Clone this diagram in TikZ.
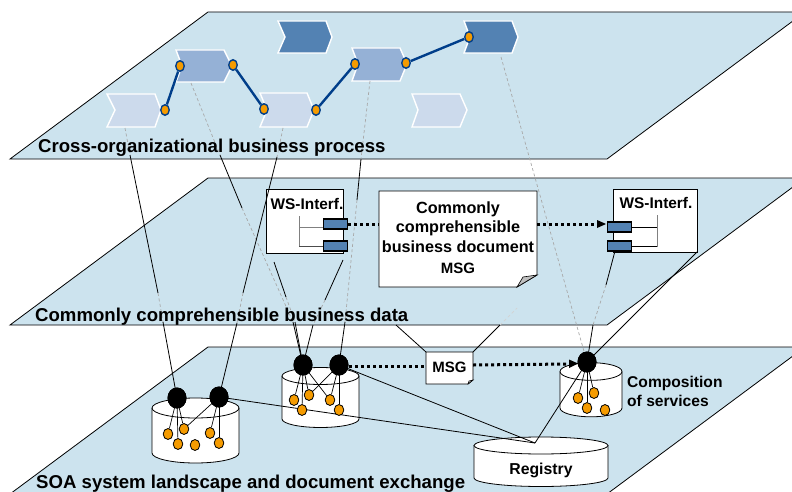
\documentclass[tikz,border=0pt]{standalone}
\usepackage{fontspec}
\usetikzlibrary{shapes.geometric}
\setmainfont{Liberation Sans}
\definecolor{planec}{HTML}{CCE3EE}
\definecolor{lightc}{HTML}{CCDAEC}
\definecolor{medc}{HTML}{95B1D6}
\definecolor{darkc}{HTML}{5382B3}
\definecolor{navyc}{HTML}{003E8A}
\definecolor{orangec}{HTML}{F59B00}
\definecolor{dashc}{HTML}{A8A8A8}
\tikzset{
  plane/.style={fill=planec,draw=black,line width=0.8pt},
  chev/.style={draw=white,line width=1.4pt,fill=#1},
  port/.style={draw=navyc,line width=1.4pt,fill=orangec,ellipse,inner sep=0pt,minimum width=8.5pt,minimum height=10.5pt},
  flow/.style={draw=navyc,line width=2.4pt},
  dot/.style={fill=black,ellipse,inner sep=0pt,minimum width=19pt,minimum height=21pt},
  svc/.style={draw=black,line width=0.8pt,fill=orangec,ellipse,inner sep=0pt,minimum width=9.6pt,minimum height=11pt},
  wire/.style={draw=black,line width=0.7pt},
  solidl/.style={draw=black,line width=0.8pt},
  dashl/.style={draw=dashc,line width=0.7pt,dash pattern=on 3pt off 2.5pt},
  dotl/.style={draw=black,line width=3pt,dash pattern=on 3pt off 3pt},
  title/.style={font=\bfseries\fontsize{18.6}{22}\selectfont,anchor=base west,inner sep=0pt},
  lab/.style={font=\bfseries\fontsize{16.2}{19.5}\selectfont,inner sep=0pt,align=center},
  iface/.style={draw=black,line width=1.2pt,fill=darkc},
  paper/.style={draw=black,line width=0.9pt,fill=white},
}
\newcommand{\cyl}[5]{% xl, xr, ytop centre, ybottom centre, ry
  \pgfmathsetmacro{\cx}{(#1+#2)/2}\pgfmathsetmacro{\rx}{(#2-#1)/2}
  \draw[fill=white,draw=black,line width=0.8pt] (#1,#3) -- (#1,#4) arc[start angle=180,end angle=360,x radius=\rx pt,y radius=#5pt] -- (#2,#3);
  \draw[fill=white,draw=black,line width=0.8pt] (\cx,#3) ellipse[x radius=\rx pt,y radius=#5pt];
}
\begin{document}
\begin{tikzpicture}[x=1pt,y=-1pt]
\useasboundingbox (0,0) rectangle (792,492);
\clip (0,0) rectangle (792,492);
% planes
\draw[plane] (10,159) -- (208,12) -- (805,12) -- (607,159) -- cycle;
\draw[plane] (10,325) -- (208,178) -- (805,178) -- (607,325) -- cycle;
\draw[plane] (10,494) -- (208,347) -- (805,347) -- (607,494) -- cycle;
% chevrons
\draw[chev=lightc] (107,94) -- (155,94) -- (161,110) -- (155,127) -- (107,127) -- (115,110) -- cycle;
\draw[chev=medc] (176,50) -- (224,50) -- (232,66) -- (224,82) -- (176,82) -- (182,66) -- cycle;
\draw[chev=lightc] (260,93) -- (307,93) -- (314,110) -- (307,127) -- (260,127) -- (267,110) -- cycle;
\draw[chev=medc] (352,48) -- (400,48) -- (407,64) -- (400,81) -- (352,81) -- (358,64) -- cycle;
\draw[chev=darkc] (464,21) -- (512,21) -- (518,37) -- (512,53) -- (464,53) -- (470,37) -- cycle;
\draw[chev=darkc] (278,21) -- (326,21) -- (332,37) -- (326,53) -- (278,53) -- (285,37) -- cycle;
\draw[chev=lightc] (412,94) -- (460,94) -- (467,110) -- (460,127) -- (412,127) -- (418,110) -- cycle;
% process ports
\node[port] (p1) at (165,110) {};
\node[port] (p2) at (180,66) {};
\node[port] (p3) at (233,65) {};
\node[port] (p4) at (264,109) {};
\node[port] (p5) at (316,110) {};
\node[port] (p6) at (355,64) {};
\node[port] (p7) at (406,63) {};
\node[port] (p8) at (469,37) {};
\draw[flow] (p1) -- (p2);
\draw[flow] (p3) -- (p4);
\draw[flow] (p5) -- (p6);
\draw[flow] (p7) -- (p8);
% cylinders
\cyl{152}{239}{408}{453}{10}
\cyl{282}{359}{376}{419}{8.5}
\cyl{560}{622}{371.5}{408}{8.8}
\cyl{474}{608}{445.5}{478}{8.5}
% dots
\node[dot] (d1) at (177,398) {};
\node[dot] (d2) at (219,397) {};
\node[dot] (d3) at (303,365) {};
\node[dot] (d4) at (339,365) {};
\node[dot] (d5) at (587,362) {};
\coordinate (reg) at (535,443);
% registry links
\draw[solidl] (d2.center) -- (reg);
\draw[solidl] (d4.center) -- (reg);
\draw[solidl] (d5.center) -- (reg);
% services
\node[svc] (a1) at (168,434) {};
\node[svc] (a2) at (184,429) {};
\node[svc] (a3) at (178,444) {};
\node[svc] (a4) at (195,445) {};
\node[svc] (a5) at (210,433) {};
\node[svc] (a6) at (219,443) {};
\node[svc] (b1) at (294,400) {};
\node[svc] (b2) at (309,395) {};
\node[svc] (b3) at (302,410) {};
\node[svc] (b4) at (330,400) {};
\node[svc] (b5) at (339,410) {};
\node[svc] (c1) at (578,398) {};
\node[svc] (c2) at (594,393) {};
\node[svc] (c3) at (587,408) {};
\node[svc] (c4) at (605,410) {};
\foreach \s/\e in {d1/a1,d1/a2,d1/a3,d2/a2,d2/a5,d2/a6,d3/b1,d3/b3,d3/b4,d4/b2,d4/b4,d4/b5,d3/b2,d5/c1,d5/c2,d5/c3}
  \draw[wire] (\s.center) -- (\e);
% documents
\node[paper,minimum width=77pt,minimum height=64pt,inner sep=0pt] (wsl) at (304.5,221) {};
\node[paper,minimum width=84pt,minimum height=63pt,inner sep=0pt] (wsr) at (655,220.5) {};
\draw[paper] (379,191) -- (537,191) -- (537,275) -- (517,287) -- (379,287) -- cycle;
\draw[draw=black,line width=0.6pt,fill=lightgray] (517,287) -- (523,277) -- (537,275) -- cycle;
\coordinate (msgtl) at (426,352);
\coordinate (msgtr) at (473,352);
\draw[solidl] (396,325) -- (msgtl);
\draw[solidl] (500,325) -- (msgtr);
\draw[dashl,draw=dashc!50] (500,325) -- (517,308);
\draw[paper] (426,352) -- (473,352) -- (473,380) -- (468,384) -- (426,384) -- cycle;
\draw[draw=black,line width=0.5pt,fill=lightgray] (468,384) -- (469,381) -- (473,380) -- cycle;
% vertical links
\draw[dashl] (125,128) -- (130,155);
\draw[solidl] (130,155) -- (158,293);
\draw[dashl] (158,293) -- (163,322);
\draw[solidl] (163,322) -- (d1.center);
\draw[dashl] (191,83) -- (220,155);
\draw[solidl] (220,155) -- (242,208);
\draw[dashl] (242,208) -- (293,322);
\draw[solidl] (293,322) -- (d3.center);
\draw[dashl] (283,128) -- (277,157);
\draw[solidl] (277,157) -- (243,293);
\draw[dashl] (243,293) -- (237,323);
\draw[solidl] (237,323) -- (d2.center);
\draw[dashl] (370,81) -- (361,159);
\draw[solidl] (361,159) -- (357,200);
\draw[dashl] (357,200) -- (345,322);
\draw[solidl] (345,322) -- (d4.center);
\draw[dashl] (501,57) -- (d5.center);
\draw[solidl] (274,262) -- (286,297);
\draw[dashl] (286,297) -- (295,322);
\draw[solidl] (295,322) -- (d3.center);
\draw[solidl] (343,260) -- (325,300);
\draw[dashl] (325,300) -- (313,325);
\draw[solidl] (313,325) -- (d3.center);
\draw[solidl] (697,252) -- (d5.center);
\draw[solidl] (615,251) -- (606,285);
\draw[dashl] (606,285) -- (593,325);
\draw[solidl] (593,325) -- (d5.center);
% redraw
\node[dot] at (d3) {};\node[dot] at (d4) {};\node[dot] at (d5) {};\node[dot] at (d1) {};\node[dot] at (d2) {};
% interfaces
\draw[draw=gray,line width=1pt] (299,216) -- (299,247);
\draw[draw=gray,line width=1pt] (299,227) -- (323,227);
\draw[draw=black!70,line width=1pt] (299,246) -- (323,246);
\node[iface,minimum width=24pt,minimum height=10pt,inner sep=0pt] (il1) at (335.5,224) {};
\node[iface,minimum width=24pt,minimum height=10pt,inner sep=0pt] (il2) at (335.5,246) {};
\draw[draw=gray,line width=1pt] (657,215) -- (657,247);
\draw[draw=black,line width=0.8pt] (632,227) -- (657,227);
\draw[draw=black,line width=0.8pt] (632,246) -- (657,246);
\node[iface,minimum width=24pt,minimum height=10pt,inner sep=0pt] (ir1) at (619.5,227) {};
\node[iface,minimum width=24pt,minimum height=10pt,inner sep=0pt] (ir2) at (619.5,246) {};
% dotted messages
\node[inner sep=0pt,minimum width=158pt,minimum height=96pt] (doc) at (458,239) {};
\node[inner sep=0pt,minimum width=47pt,minimum height=32pt] (msg) at (449.5,368) {};
\draw[dotl] (il1.east) -- (doc.west |- il1.east);
\draw[dotl] (doc.east |- il1.east) -- (597,224);
\fill (606,224) -- (597,220) -- (597,228) -- cycle;
\draw[dotl] (349,366) -- (msg.west |- 0,366);
\draw[dotl] (msg.east |- 0,365) -- (570,364);
\fill (578,363.5) -- (569,359.5) -- (569,368) -- cycle;
% labels
\node[title] (t1) at (38,153) {Cross-organizational business process};
\node[title] (t2) at (35,321) {Commonly comprehensible business data};
\node[title] (t3) at (36,488.5) {SOA system landscape and document exchange};
\node[lab] (tdoc) at (458,227) {Commonly\\comprehensible\\business document};
\node[lab,font=\bfseries\fontsize{15}{19}\selectfont] (tm1) at (458,268) {MSG};
\node[lab,font=\bfseries\fontsize{15}{19}\selectfont] (tm2) at (449.5,367) {MSG};
\node[lab,font=\bfseries\fontsize{15.4}{19}\selectfont] (tw1) at (307,204) {WS-Interf.};
\node[lab,font=\bfseries\fontsize{15.4}{19}\selectfont] (tw2) at (656,203) {WS-Interf.};
\node[lab,font=\bfseries\fontsize{15.6}{19.5}\selectfont,align=left,anchor=west] (tc) at (627,391.5) {Composition\\of services};
\node[lab,font=\bfseries\fontsize{15.8}{19}\selectfont] (tr) at (541,470) {Registry};
\end{tikzpicture}
\end{document}
